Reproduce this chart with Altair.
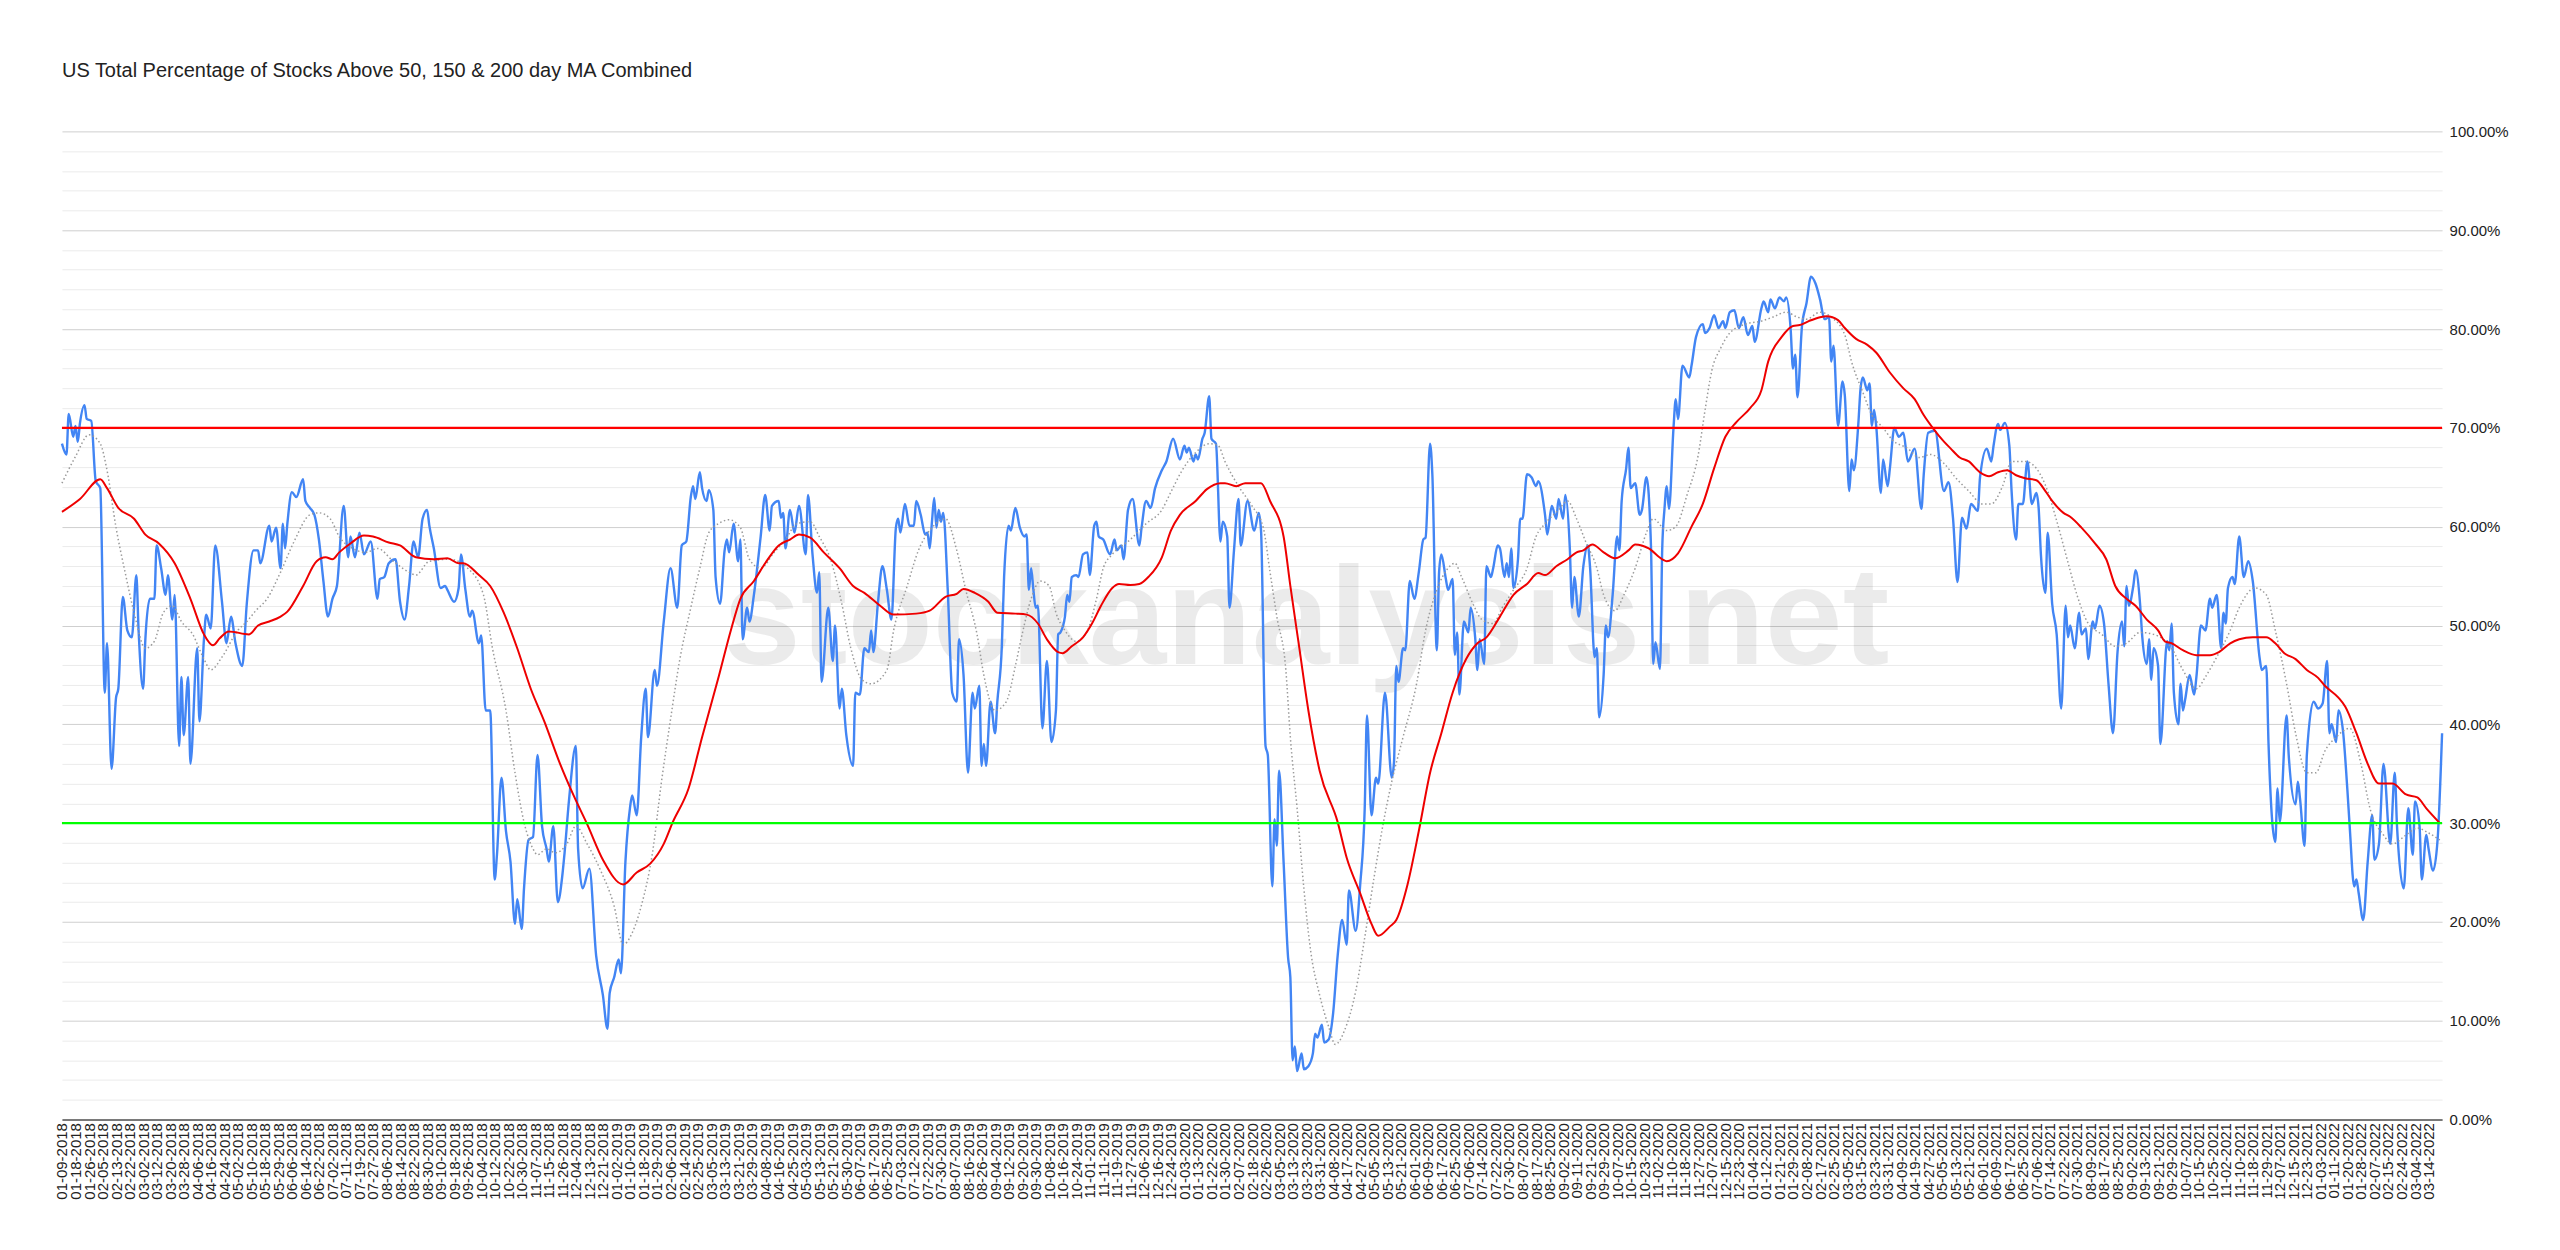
import altair as alt
import pandas as pd

TITLE = "US Total Percentage of Stocks Above 50, 150 & 200 day MA Combined"
WATERMARK = "stockanalysis.net"

# Category axis: one label every 6 trading days (day index 0, 6, 12, ...)
x_labels = [
    "01-09-2018", "01-18-2018", "01-26-2018", "02-05-2018", "02-13-2018", "02-22-2018", "03-02-2018", "03-12-2018",
    "03-20-2018", "03-28-2018", "04-06-2018", "04-16-2018", "04-24-2018", "05-02-2018", "05-10-2018", "05-18-2018",
    "05-29-2018", "06-06-2018", "06-14-2018", "06-22-2018", "07-02-2018", "07-11-2018", "07-19-2018", "07-27-2018",
    "08-06-2018", "08-14-2018", "08-22-2018", "08-30-2018", "09-10-2018", "09-18-2018", "09-26-2018", "10-04-2018",
    "10-12-2018", "10-22-2018", "10-30-2018", "11-07-2018", "11-15-2018", "11-26-2018", "12-04-2018", "12-13-2018",
    "12-21-2018",
    "01-02-2019", "01-10-2019", "01-18-2019", "01-29-2019", "02-06-2019", "02-14-2019", "02-25-2019", "03-05-2019",
    "03-13-2019", "03-21-2019", "03-29-2019", "04-08-2019", "04-16-2019", "04-25-2019", "05-03-2019", "05-13-2019",
    "05-21-2019", "05-30-2019", "06-07-2019", "06-17-2019", "06-25-2019", "07-03-2019", "07-12-2019", "07-22-2019",
    "07-30-2019", "08-07-2019", "08-16-2019", "08-26-2019", "09-04-2019", "09-12-2019", "09-20-2019", "09-30-2019",
    "10-08-2019", "10-16-2019", "10-24-2019", "11-01-2019", "11-11-2019", "11-19-2019", "11-27-2019", "12-06-2019",
    "12-16-2019", "12-24-2019",
    "01-03-2020", "01-13-2020", "01-22-2020", "01-30-2020", "02-07-2020", "02-18-2020", "02-26-2020", "03-05-2020",
    "03-13-2020", "03-23-2020", "03-31-2020", "04-08-2020", "04-17-2020", "04-27-2020", "05-05-2020", "05-13-2020",
    "05-21-2020", "06-01-2020", "06-09-2020", "06-17-2020", "06-25-2020", "07-06-2020", "07-14-2020", "07-22-2020",
    "07-30-2020", "08-07-2020", "08-17-2020", "08-25-2020", "09-02-2020", "09-11-2020", "09-21-2020", "09-29-2020",
    "10-07-2020", "10-15-2020", "10-23-2020", "11-02-2020", "11-10-2020", "11-18-2020", "11-27-2020", "12-07-2020",
    "12-15-2020", "12-23-2020",
    "01-04-2021", "01-12-2021", "01-21-2021", "01-29-2021", "02-08-2021", "02-17-2021", "02-25-2021", "03-05-2021",
    "03-15-2021", "03-23-2021", "03-31-2021", "04-09-2021", "04-19-2021", "04-27-2021", "05-05-2021", "05-13-2021",
    "05-21-2021", "06-01-2021", "06-09-2021", "06-17-2021", "06-25-2021", "07-06-2021", "07-14-2021", "07-22-2021",
    "07-30-2021", "08-09-2021", "08-17-2021", "08-25-2021", "09-02-2021", "09-13-2021", "09-21-2021", "09-29-2021",
    "10-07-2021", "10-15-2021", "10-25-2021", "11-02-2021", "11-10-2021", "11-18-2021", "11-29-2021", "12-07-2021",
    "12-15-2021", "12-23-2021",
    "01-03-2022", "01-11-2022", "01-20-2022", "01-28-2022", "02-07-2022", "02-15-2022", "02-24-2022", "03-04-2022",
    "03-14-2022",
]
LABEL_STEP = 6
LAST_DAY = 1056

# Daily combined percentage (trading-day index, percent)
blue_2018 = [
    (0, 68.4), (2, 67.3), (3, 71.4), (5, 69.1), (6, 70.2), (7, 68.6), (8, 70.5), (10, 72.3), (11, 70.9), (13, 70.7),
    (15, 64.6), (17, 63.9), (19, 43.2), (20, 48.2), (22, 35.5), (24, 42.7), (25, 43.6), (27, 52.9), (29, 49.5),
    (31, 48.8), (33, 55.1), (34, 49.5), (36, 43.6), (37, 48.6), (39, 52.7), (41, 52.7), (42, 58.1), (44, 55.8),
    (46, 53.1), (47, 55.1), (49, 50.6), (50, 53.1), (52, 37.8), (53, 44.8), (54, 38.9), (56, 44.8), (57, 36.0),
    (60, 47.7), (61, 40.3), (63, 48.6), (64, 51.1), (66, 49.7), (68, 58.1), (71, 52.4), (73, 48.2), (75, 50.9),
    (77, 48.2), (80, 45.9), (82, 52.2), (85, 57.6), (87, 57.6), (88, 56.3), (92, 60.1), (93, 58.5), (95, 59.9),
    (97, 55.8), (98, 60.3), (99, 57.8), (100, 60.3), (102, 63.5), (104, 63.0), (107, 64.8), (108, 62.6), (110, 61.9),
    (112, 61.2), (114, 58.7), (116, 54.5), (118, 50.9), (120, 52.7), (122, 54.0), (125, 62.1), (127, 56.9),
    (128, 59.0), (130, 56.9), (132, 59.4), (134, 57.2), (137, 58.5), (140, 52.7), (141, 54.7), (143, 54.9),
    (145, 56.3), (148, 56.7), (150, 52.4), (152, 50.6), (154, 54.0), (156, 58.5), (158, 56.9), (160, 60.8),
    (162, 61.7), (163, 60.1), (165, 57.8), (168, 53.8), (170, 54.0), (171, 53.6), (174, 52.4), (176, 53.8),
    (177, 57.2), (179, 53.6), (181, 50.9), (182, 51.5), (185, 48.2), (186, 49.0), (188, 41.4), (190, 41.4),
    (192, 24.3), (193, 26.8), (195, 34.6), (197, 29.2), (199, 26.1), (201, 19.8), (202, 22.3), (204, 19.3),
    (205, 23.4), (207, 28.3), (209, 28.6), (211, 36.9), (213, 29.7), (215, 27.4), (216, 26.1), (218, 29.7),
    (220, 22.0), (222, 24.7), (223, 27.0), (225, 32.4), (228, 37.8), (229, 27.4), (231, 23.4), (234, 25.4),
    (237, 16.6), (240, 12.6), (242, 9.2), (243, 12.8), (245, 14.4), (247, 16.2), (248, 14.8),
]
blue_2019 = [
    (250, 26.1), (252, 31.5), (253, 32.8), (255, 30.8), (257, 38.7), (259, 43.6), (260, 38.7), (263, 45.5),
    (264, 43.9), (267, 50.4), (270, 55.8), (273, 51.8), (275, 58.1), (277, 58.5), (279, 63.0), (280, 64.1),
    (281, 62.8), (283, 65.5), (284, 63.9), (286, 62.6), (287, 63.7), (289, 61.7), (290, 54.9), (292, 52.2),
    (294, 57.6), (295, 58.7), (296, 57.4), (298, 60.3), (300, 56.5), (301, 58.7), (302, 48.6), (304, 51.8),
    (305, 50.4), (307, 53.1), (310, 59.0), (312, 63.2), (314, 59.6), (315, 62.1), (318, 62.6), (319, 60.9),
    (320, 61.4), (321, 57.8), (323, 61.7), (325, 59.4), (327, 62.1), (330, 57.2), (331, 63.2), (333, 57.2),
    (335, 53.3), (336, 55.4), (337, 44.3), (340, 51.8), (342, 46.4), (343, 50.0), (345, 41.6), (346, 43.6),
    (348, 38.9), (351, 35.8), (352, 43.2), (354, 43.0), (356, 47.7), (358, 47.3), (359, 49.5), (360, 47.3),
    (362, 52.2), (364, 56.0), (366, 53.6), (368, 50.6), (370, 59.9), (371, 60.8), (372, 59.4), (374, 62.3),
    (376, 60.1), (378, 60.1), (379, 62.6), (381, 61.2), (383, 59.2), (384, 59.4), (385, 57.8), (386, 60.5),
    (387, 62.9), (388, 59.9), (389, 61.7), (390, 60.5), (391, 61.4), (393, 53.6), (395, 43.2), (397, 42.3),
    (398, 48.6), (400, 45.0), (402, 35.1), (404, 43.2), (405, 41.6), (407, 43.9), (408, 35.8), (409, 38.0),
    (410, 35.8), (412, 42.3), (414, 39.1), (415, 42.3), (417, 47.9), (418, 54.9), (420, 60.1), (421, 59.6),
    (423, 61.9), (425, 59.9), (427, 59.0), (428, 59.2), (429, 53.6), (430, 55.8), (431, 53.6), (432, 51.8),
    (433, 52.0), (435, 39.6), (437, 46.4), (439, 38.2), (441, 41.4), (442, 49.1), (443, 49.3), (445, 50.9),
    (446, 53.1), (447, 52.4), (448, 54.9), (450, 55.1), (451, 54.9), (453, 57.2), (455, 57.4), (456, 55.1),
    (458, 60.1), (459, 60.5), (460, 59.0), (462, 58.7), (465, 57.2), (467, 58.7), (468, 57.6), (470, 58.1),
    (471, 56.7), (473, 61.7), (475, 62.8), (478, 58.1), (479, 59.9), (481, 62.6), (483, 61.9), (485, 63.9),
    (488, 65.7), (490, 66.6), (493, 68.9), (496, 66.8), (498, 68.2), (499, 67.5), (500, 68.0), (502, 66.6),
    (503, 67.3), (504, 66.8),
]
blue_2020 = [
    (506, 68.9), (507, 69.5), (509, 73.2), (510, 68.9), (512, 68.4), (514, 58.5), (515, 60.5), (517, 59.0),
    (518, 51.8), (520, 57.6), (522, 62.8), (523, 58.1), (526, 62.6), (529, 59.6), (531, 61.4), (532, 59.6),
    (534, 37.8), (535, 36.9), (537, 23.6), (538, 30.4), (539, 27.7), (540, 35.3), (542, 26.1), (544, 16.4),
    (545, 14.4), (546, 6.0), (547, 7.4), (548, 4.9), (550, 6.7), (551, 5.1), (553, 5.4), (555, 6.7), (556, 8.7),
    (557, 8.3), (559, 9.6), (560, 7.8), (562, 8.1), (564, 10.8), (566, 16.6), (568, 20.2), (570, 17.7),
    (571, 23.2), (574, 19.1), (576, 23.8), (578, 31.5), (579, 40.9), (581, 30.8), (583, 34.6), (584, 34.0),
    (587, 43.2), (590, 34.6), (591, 36.2), (592, 45.9), (593, 44.3), (595, 47.7), (596, 47.5), (598, 54.5),
    (600, 52.7), (602, 55.4), (604, 58.7), (605, 58.9), (607, 68.4), (608, 65.3), (610, 47.5), (611, 55.4),
    (612, 57.2), (614, 54.7), (615, 53.6), (617, 54.7), (618, 47.0), (619, 49.3), (620, 43.0), (622, 50.4),
    (624, 49.3), (625, 51.8), (627, 48.8), (628, 45.5), (629, 48.6), (631, 46.1), (632, 56.0), (634, 54.9),
    (635, 55.8), (637, 58.1), (638, 57.8), (640, 54.9), (641, 56.3), (642, 54.9), (643, 57.8), (644, 53.8),
    (646, 56.7), (647, 60.8), (648, 60.8), (650, 65.3), (652, 65.0), (654, 64.1), (655, 64.6), (658, 61.2),
    (659, 59.2), (661, 62.1), (663, 60.8), (664, 62.8), (666, 60.8), (667, 63.2), (669, 57.8), (670, 51.8),
    (671, 54.9), (673, 50.9), (675, 56.0), (677, 58.1), (678, 55.8), (680, 46.8), (681, 47.7), (682, 40.7),
    (684, 45.0), (685, 50.0), (686, 48.8), (688, 53.1), (690, 59.0), (691, 57.6), (692, 62.6), (694, 65.9),
    (695, 68.0), (696, 63.9), (698, 64.4), (700, 61.2), (701, 61.7), (703, 65.0), (705, 58.1), (706, 46.1),
    (707, 48.3), (709, 45.6), (710, 57.8), (711, 61.8), (712, 64.1), (713, 61.8), (715, 70.0), (716, 72.9),
    (717, 70.9), (719, 76.3), (722, 75.1), (723, 76.3), (725, 79.2), (728, 80.5), (729, 79.6), (731, 80.1),
    (733, 81.4), (735, 80.1), (737, 80.8), (738, 80.1), (740, 81.7), (742, 81.9), (744, 80.1), (746, 81.2),
    (748, 79.4),
]
blue_2021 = [
    (750, 80.3), (751, 78.7), (754, 82.1), (755, 82.8), (757, 81.7), (758, 83.0), (760, 82.1), (762, 83.2),
    (764, 82.8), (765, 83.2), (767, 79.9), (768, 76.0), (769, 77.4), (770, 73.1), (772, 80.3), (774, 82.6),
    (776, 85.3), (778, 84.6), (780, 83.0), (782, 81.0), (784, 81.2), (785, 76.7), (786, 78.3), (788, 70.2),
    (790, 74.7), (791, 73.3), (793, 63.6), (794, 66.8), (795, 65.7), (797, 70.4), (798, 74.0), (799, 75.1),
    (801, 73.8), (802, 74.5), (803, 70.2), (804, 71.8), (805, 70.0), (807, 63.4), (808, 66.8), (810, 64.1),
    (811, 65.9), (813, 70.0), (815, 69.1), (817, 69.5), (819, 66.6), (822, 67.9), (825, 61.8), (826, 65.2),
    (828, 69.5), (831, 69.7), (835, 63.6), (837, 64.5), (839, 60.9), (841, 54.4), (843, 60.9), (845, 59.8),
    (847, 62.3), (850, 61.6), (851, 65.0), (854, 67.9), (856, 66.6), (857, 68.2), (859, 70.4), (860, 69.8),
    (862, 70.5), (864, 68.2), (865, 63.6), (867, 58.7), (868, 62.3), (870, 62.3), (872, 66.6), (874, 62.3),
    (876, 63.4), (877, 61.9), (878, 57.2), (880, 53.3), (881, 59.4), (883, 52.2), (885, 49.1), (887, 41.6),
    (889, 52.0), (890, 48.8), (891, 50.0), (893, 47.7), (895, 51.3), (896, 49.1), (898, 49.7), (899, 46.6),
    (901, 50.4), (902, 49.7), (904, 52.0), (906, 50.2), (908, 44.1), (910, 39.1), (912, 47.3), (914, 50.4),
    (915, 47.9), (916, 54.0), (917, 52.0), (919, 54.0), (920, 55.6), (922, 52.2), (923, 48.8), (925, 46.1),
    (926, 48.6), (927, 44.5), (928, 47.7), (930, 45.9), (931, 38.0), (934, 48.4), (935, 47.5), (936, 50.2),
    (937, 43.2), (939, 40.0), (940, 44.1), (941, 41.4), (942, 42.5), (944, 45.0), (946, 43.0), (947, 44.8),
    (949, 50.0), (951, 49.5), (953, 52.7), (954, 51.8), (956, 53.1), (958, 47.7), (959, 51.3), (960, 50.2),
    (961, 53.8), (963, 54.9), (964, 54.2), (966, 59.0), (968, 54.9), (970, 56.5), (972, 54.5), (975, 46.8),
    (976, 45.5), (978, 45.9), (979, 38.0), (982, 28.1), (983, 33.5), (984, 30.1), (987, 40.9), (988, 36.7),
    (991, 31.9), (992, 34.2), (993, 32.4), (995, 27.7), (996, 36.9),
]
blue_2022 = [
    (999, 42.3), (1001, 41.6), (1003, 42.1), (1005, 46.4), (1006, 39.1), (1007, 40.0), (1009, 38.2),
    (1010, 41.4), (1012, 39.4), (1014, 33.3), (1015, 29.7), (1017, 23.6), (1018, 24.3), (1019, 22.9),
    (1021, 20.2), (1023, 26.1), (1025, 30.8), (1026, 26.3), (1028, 27.9), (1030, 36.0), (1033, 27.9),
    (1035, 35.1), (1036, 29.7), (1039, 23.4), (1041, 31.5), (1043, 26.8), (1044, 32.2), (1046, 29.7),
    (1047, 24.3), (1049, 28.8), (1050, 27.4), (1052, 25.2), (1054, 28.3), (1056, 39.1),
]

# Slow moving average (red)
ma_red = [
    (0, 61.5), (8, 62.8), (17, 64.8), (20, 63.9), (25, 61.9), (32, 60.8), (37, 59.2), (43, 58.3), (50, 56.3),
    (57, 52.7), (63, 49.1), (67, 48.0), (70, 48.7), (74, 49.4), (83, 49.1), (87, 50.0), (92, 50.4), (97, 50.9),
    (100, 51.4), (107, 54.0), (113, 56.5), (117, 56.9), (120, 56.7), (123, 57.4), (128, 58.3), (134, 59.1),
    (138, 59.0), (145, 58.4), (150, 58.1), (157, 56.9), (165, 56.7), (171, 56.8), (176, 56.3), (178, 56.3),
    (185, 55.1), (190, 54.0), (196, 51.3), (202, 47.7), (208, 43.6), (214, 40.3), (221, 36.0), (227, 32.8),
    (233, 29.9), (240, 26.3), (249, 23.8), (255, 25.0), (261, 25.9), (267, 27.9), (271, 30.1), (278, 33.5),
    (284, 38.7), (291, 44.5), (297, 49.7), (301, 52.7), (307, 54.5), (312, 56.3), (318, 58.1), (323, 58.7),
    (327, 59.2), (332, 58.9), (338, 57.4), (345, 55.8), (351, 54.0), (356, 53.3), (363, 52.0), (369, 51.1),
    (379, 51.2), (385, 51.5), (392, 52.9), (397, 53.2), (400, 53.7), (405, 53.3), (411, 52.4), (415, 51.3),
    (423, 51.2), (428, 51.1), (433, 50.2), (437, 48.6), (442, 47.3), (444, 47.2), (448, 47.9), (453, 48.8),
    (457, 50.2), (461, 52.0), (466, 53.8), (469, 54.2), (474, 54.1), (478, 54.2), (482, 54.9), (488, 56.9),
    (492, 59.6), (496, 61.2), (503, 62.6), (508, 63.8), (514, 64.4), (516, 64.4), (521, 64.1), (525, 64.4),
    (532, 64.4), (536, 62.6), (542, 59.0), (545, 54.0), (549, 47.7), (553, 41.4), (558, 35.3), (566, 30.1),
    (570, 26.5), (576, 22.9), (581, 19.8), (584, 18.6), (589, 19.5), (592, 20.2), (597, 23.8), (602, 29.2),
    (607, 35.1), (612, 39.1), (617, 43.2), (623, 46.6), (628, 48.2), (632, 48.8), (638, 50.9), (644, 53.1),
    (650, 54.2), (655, 55.3), (658, 55.1), (663, 56.0), (668, 56.7), (672, 57.4), (675, 57.6), (679, 58.2),
    (684, 57.4), (689, 56.8), (695, 57.6), (698, 58.2), (704, 57.8), (710, 56.7), (712, 56.5), (717, 57.3),
    (723, 60.0), (728, 62.3), (733, 65.9), (738, 69.1), (743, 70.6), (749, 72.0), (754, 73.8), (757, 76.7),
    (763, 79.2), (768, 80.3), (771, 80.4), (775, 80.8), (780, 81.2), (783, 81.3), (788, 80.9), (791, 80.1),
    (796, 79.0), (801, 78.4), (805, 77.6), (811, 75.6), (817, 74.0), (822, 72.9), (826, 71.3), (830, 70.0),
    (835, 68.6), (838, 67.9), (842, 67.0), (846, 66.6), (851, 65.5), (855, 65.1), (859, 65.5), (863, 65.7),
    (867, 65.2), (871, 64.9), (876, 64.7), (880, 63.6), (883, 62.6), (888, 61.4), (891, 61.0), (896, 59.9),
    (902, 58.3), (907, 56.7), (911, 54.0), (916, 52.7), (920, 52.0), (925, 50.6), (930, 49.5), (933, 48.4),
    (936, 48.2), (941, 47.5), (947, 47.0), (953, 47.0), (957, 47.3), (962, 48.2), (966, 48.6), (972, 48.8),
    (978, 48.8), (982, 48.2), (986, 47.2), (991, 46.6), (996, 45.5), (1001, 44.7), (1004, 43.9), (1010, 42.7),
    (1013, 41.8), (1018, 39.1), (1023, 36.0), (1028, 34.0), (1034, 34.0), (1040, 32.9), (1045, 32.6),
    (1049, 31.5), (1055, 30.0),
]

# Fast moving average (grey dotted)
ma_grey = [
    (0, 64.4), (6, 67.1), (12, 69.3), (17, 68.4), (20, 65.7), (24, 59.9), (28, 55.4), (32, 51.3), (37, 47.7),
    (41, 48.4), (45, 51.3), (49, 52.0), (53, 50.4), (58, 49.1), (63, 46.6), (66, 45.5), (71, 46.8), (78, 49.5),
    (82, 50.4), (86, 51.5), (91, 52.7), (97, 55.4), (103, 58.5), (110, 61.2), (114, 61.4), (119, 60.8),
    (123, 59.0), (129, 57.8), (135, 57.4), (140, 57.8), (147, 56.5), (154, 55.4), (157, 55.1), (163, 56.5),
    (172, 56.7), (180, 55.8), (187, 53.1), (191, 47.7), (197, 41.4), (201, 35.1), (205, 30.1), (209, 27.4),
    (211, 26.8), (215, 27.4), (219, 27.0), (224, 27.9), (228, 29.7), (233, 27.9), (239, 25.2), (245, 21.6),
    (249, 17.7), (253, 18.9), (257, 21.6), (262, 27.0), (266, 34.2), (270, 40.5), (274, 46.4), (279, 51.8),
    (283, 55.8), (287, 59.4), (292, 60.4), (296, 60.7), (301, 59.9), (305, 56.7), (310, 55.8), (316, 57.4),
    (321, 58.7), (326, 60.3), (332, 60.5), (336, 59.0), (341, 56.7), (346, 52.2), (350, 47.7), (355, 44.5),
    (359, 44.1), (366, 45.5), (369, 49.5), (375, 54.0), (380, 57.6), (386, 59.9), (392, 60.8), (397, 57.6),
    (401, 53.6), (406, 49.1), (409, 45.0), (414, 41.4), (419, 42.3), (423, 45.9), (426, 49.1), (430, 52.7),
    (434, 54.5), (438, 54.0), (441, 51.3), (445, 49.5), (450, 48.4), (455, 49.5), (459, 52.7), (462, 55.8),
    (466, 57.2), (474, 58.7), (481, 60.3), (488, 61.7), (492, 63.5), (497, 65.7), (503, 67.5), (509, 68.4),
    (513, 68.2), (516, 66.6), (522, 64.1), (528, 62.1), (533, 59.9), (536, 55.4), (539, 50.9), (543, 45.5),
    (545, 38.7), (548, 31.5), (551, 23.4), (554, 17.1), (558, 12.6), (562, 9.4), (565, 7.6), (569, 9.0),
    (574, 13.0), (578, 18.4), (582, 24.3), (586, 29.7), (590, 34.2), (595, 38.7), (601, 44.1), (605, 49.5),
    (610, 53.6), (615, 55.8), (618, 56.3), (621, 54.9), (626, 52.2), (630, 50.6), (635, 50.2), (639, 51.8),
    (644, 53.6), (650, 55.8), (654, 59.0), (658, 60.3), (664, 61.7), (668, 62.6), (672, 60.8), (676, 58.5),
    (681, 55.8), (684, 53.1), (689, 51.5), (693, 53.1), (698, 55.8), (703, 59.4), (706, 60.8), (712, 59.6),
    (716, 60.0), (721, 63.2), (726, 67.3), (729, 71.8), (732, 75.8), (736, 78.1), (740, 79.6), (747, 80.5),
    (754, 80.8), (759, 81.2), (765, 81.7), (770, 81.2), (774, 81.0), (780, 81.7), (785, 81.2), (791, 79.4),
    (794, 76.7), (799, 73.6), (803, 71.3), (808, 70.0), (812, 68.8), (819, 67.9), (824, 67.0), (829, 67.3),
    (835, 66.4), (840, 65.0), (846, 63.6), (852, 62.3), (856, 62.3), (861, 64.1), (865, 66.6), (871, 66.6),
    (876, 65.9), (881, 63.6), (885, 60.6), (890, 56.4), (894, 53.1), (899, 50.2), (905, 49.1), (911, 47.9),
    (916, 48.2), (922, 49.3), (928, 49.1), (936, 47.7), (941, 45.5), (947, 43.6), (951, 44.8), (956, 46.8),
    (962, 49.5), (966, 51.8), (973, 53.8), (978, 53.1), (982, 49.5), (987, 44.1), (991, 39.1), (996, 35.1),
    (1000, 35.1), (1004, 37.3), (1009, 38.7), (1015, 39.6), (1020, 36.0), (1024, 31.5), (1030, 28.8),
    (1034, 27.9), (1040, 28.8), (1045, 29.5), (1050, 29.0), (1055, 28.3),
]

threshold_levels = [70, 30]
threshold_colors = ["#ff0000", "#00ff00"]

# watermark anchor (in data units: trading day, percent)
watermark_pos = (552, 46.1)

# ---------------------------------------------------------------------------
blue_df = pd.DataFrame(blue_2018 + blue_2019 + blue_2020 + blue_2021 + blue_2022, columns=["day", "pct"])
red_df = pd.DataFrame(ma_red, columns=["day", "pct"])
grey_df = pd.DataFrame(ma_grey, columns=["day", "pct"])
thr_df = pd.DataFrame({"pct": threshold_levels, "color": threshold_colors})
wm_df = pd.DataFrame({"day": [watermark_pos[0]], "pct": [watermark_pos[1]], "txt": [WATERMARK]})

FONT = "Liberation Sans"
label_array = "[" + ",".join("'%s'" % s for s in x_labels) + "]"

x_axis = alt.Axis(
    values=list(range(0, LABEL_STEP * (len(x_labels) - 1) + 1, LABEL_STEP)),
    labelExpr=label_array + "[round(datum.value / %d)]" % LABEL_STEP,
    labelAngle=-90,
    labelFont=FONT,
    labelFontSize=15,
    labelColor="#222222",
    labelPadding=3,
    labelOverlap=False,
    labelBound=False,
    labelFlush=False,
    ticks=False,
    grid=False,
    domain=True,
    domainColor="#555555",
    domainWidth=1.5,
    title=None,
)
y_axis = alt.Axis(
    orient="right",
    values=list(range(0, 101, 2)),
    labelExpr="datum.value % 10 === 0 ? format(datum.value / 100, '.2%') : ''",
    labelFont=FONT,
    labelFontSize=15,
    labelColor="#222222",
    labelPadding=7,
    labelOverlap=False,
    labelBound=False,
    ticks=False,
    domain=False,
    grid=True,
    gridColor={"condition": {"test": "datum.value % 10 === 0", "value": "#cfcfcf"}, "value": "#ebebeb"},
    gridWidth=1,
    title=None,
)

X = alt.X("day:Q", scale=alt.Scale(domain=[0, LAST_DAY], nice=False, zero=False), axis=x_axis)
Y = alt.Y("pct:Q", scale=alt.Scale(domain=[0, 100], nice=False, zero=True), axis=y_axis)

watermark = alt.Chart(wm_df).mark_text(
    font=FONT, fontSize=140, fontWeight="bold", color="#000000", opacity=0.075,
    align="center", baseline="alphabetic",
).encode(x=X, y=Y, text="txt:N")

blue = alt.Chart(blue_df).mark_line(color="#4285f4", strokeWidth=2.4, interpolate="monotone").encode(x=X, y=Y)
grey = alt.Chart(grey_df).mark_line(
    color="#9a9a9a", strokeWidth=1.5, strokeDash=[1.5, 2.5], interpolate="monotone"
).encode(x=X, y=Y)
red = alt.Chart(red_df).mark_line(color="#ee0000", strokeWidth=2, interpolate="monotone").encode(x=X, y=Y)
rules = alt.Chart(thr_df).mark_rule(strokeWidth=2.2).encode(
    y=Y, color=alt.Color("color:N", scale=None)
)

chart = alt.layer(watermark, blue, grey, red, rules).properties(
    width=2382,
    height=989,
    autosize="none",
    padding={"left": 54, "top": 123, "right": 110, "bottom": 90},
    background="white",
    title=alt.TitleParams(
        TITLE, anchor="start", frame="group", font=FONT, fontSize=20, fontWeight="normal",
        color="#222222", offset=27, baseline="alphabetic",
    ),
).configure_view(stroke=None)

chart.save("out.html", embed_options={"renderer": "svg", "actions": False})
